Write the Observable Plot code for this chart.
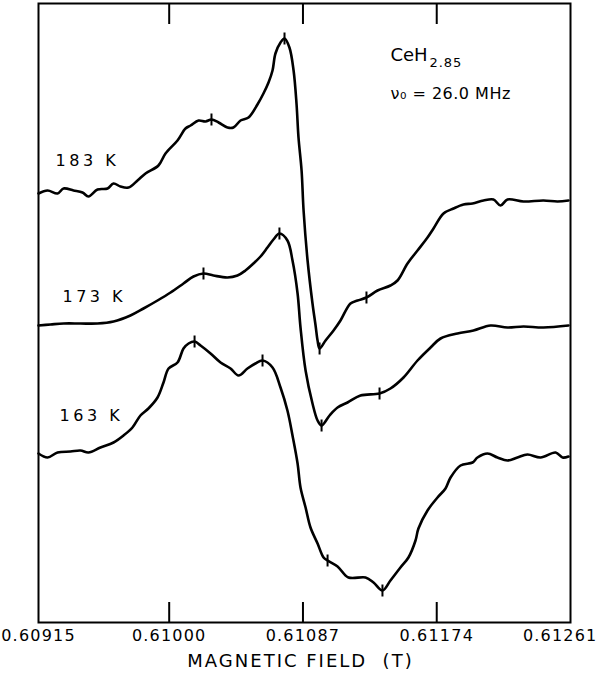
<!DOCTYPE html>
<html><head><meta charset="utf-8">
<script src="https://cdn.jsdelivr.net/npm/d3@7"></script>
<script src="https://cdn.jsdelivr.net/npm/@observablehq/plot@0.6"></script>
<style>
html,body{margin:0;padding:0;background:#fff;}
svg text{white-space:pre;}
</style></head><body><div id="chart"></div>
<script>
// Magnetic field (T) and offset derivative signal (arb. units) for each temperature
const field183 = [0.609150,0.609209,0.609274,0.609313,0.609378,0.609436,0.609475,0.609534,0.609599,0.609638,0.609683,0.609735,0.609794,0.609846,0.609930,0.609976,0.610054,0.610106,0.610139,0.610191,0.610236,0.610275,0.610321,0.610379,0.610418,0.610464,0.610516,0.610574,0.610613,0.610646,0.610672,0.610691,0.610724,0.610750,0.610782,0.610809,0.610828,0.610841,0.610861,0.610874,0.610900,0.610932,0.610952,0.610965,0.610978,0.611017,0.611069,0.611114,0.611179,0.611225,0.611283,0.611355,0.611439,0.611485,0.611550,0.611615,0.611680,0.611719,0.611784,0.611849,0.611914,0.611973,0.612044,0.612109,0.612155,0.612200,0.612304,0.612434,0.612526,0.612597];
const level183 = [429,432,429,434,432,430,426,433,434,439,436,435,442,449,457,469,482,494,497,502,501,503,500,495,495,502,505,518,529,540,552,569,580,584,575,552,519,485,452,412,362,319,297,282,274,282,292,302,319,322,325,332,337,342,359,372,385,394,409,414,418,419,422,423,417,423,421,422,421,422];

const field173 = [0.609150,0.609228,0.609313,0.609423,0.609534,0.609638,0.609748,0.609833,0.609924,0.610009,0.610093,0.610158,0.610223,0.610288,0.610379,0.610444,0.610496,0.610548,0.610594,0.610639,0.610678,0.610717,0.610769,0.610802,0.610835,0.610854,0.610887,0.610932,0.610965,0.610991,0.611043,0.611095,0.611160,0.611244,0.611368,0.611439,0.611524,0.611615,0.611700,0.611765,0.611875,0.611979,0.612090,0.612200,0.612304,0.612434,0.612597];
const level173 = [297,298,299,299,299,301,307,314,322,330,339,346,349,347,345,347,352,359,366,375,383,389,382,362,329,295,252,219,202,197,207,215,220,227,229,234,245,262,275,284,289,292,297,295,296,295,297];

const field163 = [0.609150,0.609209,0.609274,0.609358,0.609423,0.609475,0.609553,0.609638,0.609703,0.609761,0.609813,0.609865,0.609924,0.609963,0.609996,0.610054,0.610093,0.610126,0.610165,0.610204,0.610269,0.610334,0.610399,0.610451,0.610509,0.610561,0.610607,0.610672,0.610724,0.610769,0.610802,0.610835,0.610854,0.610887,0.610919,0.610965,0.611004,0.611030,0.611095,0.611166,0.611277,0.611329,0.611387,0.611439,0.611504,0.611556,0.611602,0.611621,0.611680,0.611745,0.611797,0.611830,0.611895,0.611973,0.612005,0.612070,0.612135,0.612200,0.612265,0.612330,0.612415,0.612513,0.612558,0.612597];
const level163 = [169,165,170,171,172,170,175,180,187,195,207,214,225,240,254,260,274,279,281,277,269,260,254,247,254,259,262,255,235,212,187,159,135,115,95,79,65,62,56,45,45,40,32,42,55,65,82,94,112,125,134,145,157,160,165,169,165,162,165,168,165,170,165,166];

// Small tick markers on the traces
const markerField = [0.610275,0.610750,0.610978,0.611283, 0.610223,0.610717,0.610991,0.611368, 0.610165,0.610607,0.611030,0.611387];
const markerLevel = [503,584,274,325, 349,389,197,229, 281,262,62,32];

// Temperature labels
const tempLabels = ["183 K","173 K","163 K"];
const tempLabelField = [0.609261,0.609306,0.609287];
const tempLabelLevel = [462,326,207];

// Axis
const tickValues = [0.60915,0.61000,0.61087,0.61174,0.61261];
const tickLabels = ["0.60915","0.61000","0.61087","0.61174","0.61261"];
const innerTicks = [0.61000,0.61087,0.61174];
const axisTitle = "MAGNETIC FIELD  (T)";

// Annotation
const annoField = 0.611439;
const annoLevels = [567, 529];

const rows = [];
field183.forEach((f,i)=>rows.push({field:f, level:level183[i], temp:"183 K"}));
field173.forEach((f,i)=>rows.push({field:f, level:level173[i], temp:"173 K"}));
field163.forEach((f,i)=>rows.push({field:f, level:level163[i], temp:"163 K"}));
const markers = markerField.map((f,i)=>({field:f, level:markerLevel[i]}));
const labels = tempLabels.map((t,i)=>({text:t, field:tempLabelField[i], level:tempLabelLevel[i]}));
const ticksCentered = tickValues.slice(0, 4).map((v,i)=>({v, t: tickLabels[i]}));
const tickLast = [{v: tickValues[4], t: tickLabels[4]}];

const vbar = {draw(ctx, size){ const h = Math.sqrt(size/Math.PI); ctx.moveTo(0,-h); ctx.lineTo(0,h); }};

const chart = Plot.plot({
  width: 598, height: 676,
  marginLeft: 38, marginRight: 28, marginTop: 3, marginBottom: 54,
  style: {fontFamily: "DejaVu Sans", background: "white", color: "black"},
  x: {domain: [0.60915, 0.61261], axis: null},
  y: {domain: [0, 619], axis: null},
  marks: [
    Plot.frame({stroke: "black", strokeWidth: 2}),
    Plot.axisX({anchor: "bottom", ticks: innerTicks, tickSize: 20, dy: -20, tickFormat: () => "", label: null, strokeWidth: 2}),
    Plot.axisX({anchor: "top", ticks: innerTicks, tickSize: 20, dy: 20, tickFormat: () => "", label: null, strokeWidth: 2}),
    Plot.text(ticksCentered, {x: "v", text: "t", frameAnchor: "bottom", dy: 18, fontSize: 16}),
    Plot.text(tickLast, {x: "v", text: "t", frameAnchor: "bottom", dy: 18, dx: 27, textAnchor: "end", fontSize: 16}),
    Plot.line(rows, {x: "field", y: "level", z: "temp", stroke: "black", strokeWidth: 2.6, curve: "catmull-rom", strokeLinejoin: "round", strokeLinecap: "round"}),
    Plot.dot(markers, {x: "field", y: "level", symbol: vbar, r: 6, fill: "none", stroke: "black", strokeWidth: 2}),
    Plot.text(labels, {x: "field", y: "level", text: "text", textAnchor: "start", fontSize: 16}),
    Plot.text(["CeH"], {x: () => annoField, y: () => annoLevels[0], text: d => d, textAnchor: "start", fontSize: 18}),
    Plot.text(["2.85"], {x: () => annoField, y: () => annoLevels[0], text: d => d, textAnchor: "start", fontSize: 13, dx: 39, dy: 7}),
    Plot.text(["ν₀ = 26.0 MHz"], {x: () => annoField, y: () => annoLevels[1], text: d => d, textAnchor: "start", fontSize: 16}),
    Plot.text([axisTitle], {frameAnchor: "bottom", text: d => d, dy: 44, dx: -4, fontSize: 18})
  ]
});
document.getElementById("chart").appendChild(chart);
const sel = d3.select(chart);
sel.selectAll("text").each(function(){
  const t = this.textContent;
  let ls = null;
  if (tickLabels.includes(t)) ls = "1.2px";
  else if (tempLabels.includes(t)) ls = "3.5px";
  else if (t === axisTitle) ls = "2px";
  else if (t === "2.85") ls = "1px";
  else if (t.startsWith("ν")) ls = "0.5px";
  if (ls) d3.select(this).style("letter-spacing", ls);
});
</script>
</body></html>
